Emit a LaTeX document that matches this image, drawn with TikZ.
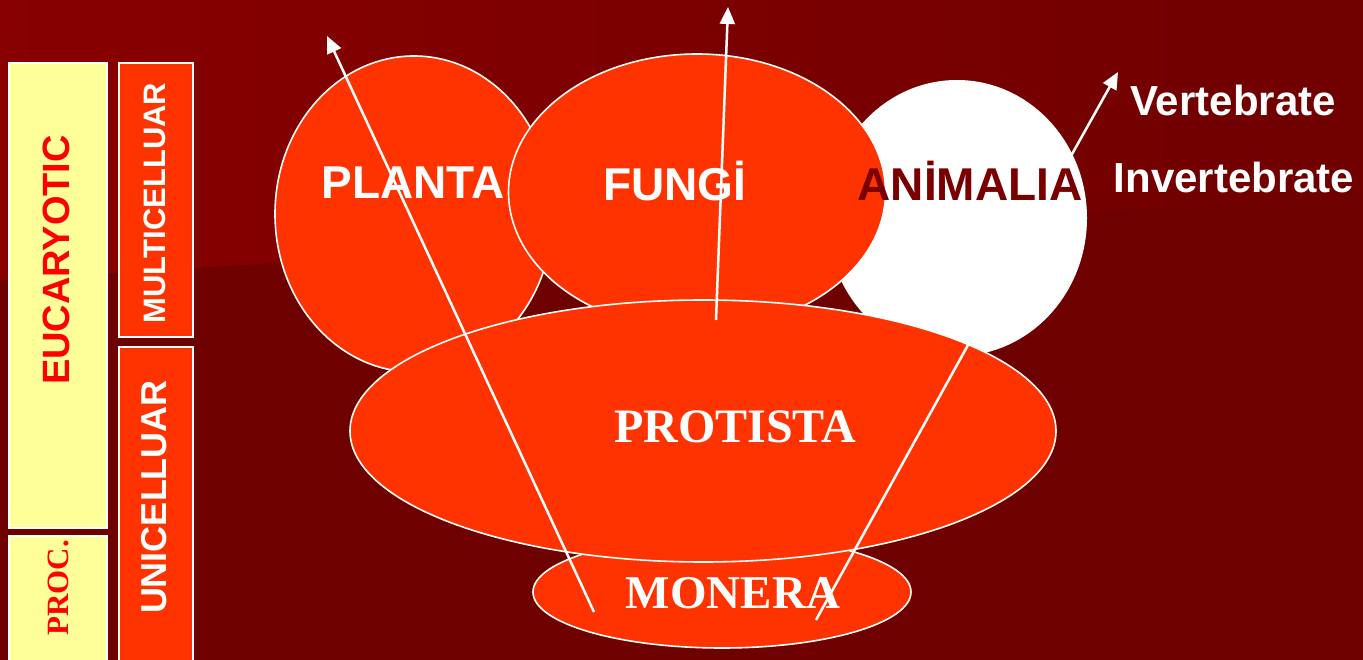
\documentclass[tikz,border=0pt]{standalone}
\usepackage{fontspec}
\setmainfont{Liberation Serif}
\setsansfont{Liberation Sans}
\usetikzlibrary{shapes.geometric,arrows.meta}
\definecolor{bgtop}{HTML}{880000}
\definecolor{bgright}{HTML}{700000}
\definecolor{bgbottom}{HTML}{6E0000}
\definecolor{kingdom}{HTML}{FF3300}
\definecolor{paleyellow}{HTML}{FFFF99}
\definecolor{darklabel}{HTML}{7A0000}
\definecolor{redlabel}{HTML}{FF0000}
\begin{document}
\begin{tikzpicture}[x=1pt,y=-1pt,
  blob/.style={ellipse,draw=white,line width=1.6pt,fill=kingdom,inner sep=0pt},
  yellowbox/.style={rectangle,draw=white,line width=1.4pt,fill=paleyellow,inner sep=0pt},
  orangebox/.style={rectangle,draw=white,line width=1.4pt,fill=kingdom,inner sep=0pt},
  sanslabel/.style={font=\sffamily\bfseries\fontsize{#1}{#1}\selectfont,inner sep=0pt},
  seriflabel/.style={font=\rmfamily\bfseries\fontsize{#1}{#1}\selectfont,inner sep=0pt},
  link/.style={draw=white,line width=2.5pt},
  arrowlink/.style={link,-{Triangle[length=17pt,width=15pt]}}]
\useasboundingbox (0,0) rectangle (1363,660);
% background: dark lower field, shaded upper band
\fill[bgbottom] (0,0) rectangle (1363,660);
\shade[left color=bgtop,right color=bgright] (0,0) -- (1363,0) -- (1363,195) -- (0,280) -- cycle;

% left classification bars
\node[yellowbox,minimum width=98pt,minimum height=465pt] (euk) at (58,295.5) {};
\node[yellowbox,minimum width=98pt,minimum height=130pt] (proc) at (58,601) {};
\node[orangebox,minimum width=74pt,minimum height=274pt] (multi) at (156,200) {};
\node[orangebox,minimum width=74pt,minimum height=320pt] (uni) at (156,507) {};
\node[sanslabel=38,text=redlabel,rotate=90] (eukt) at (56,260) {EUCARYOTIC};
\node[seriflabel=31,text=redlabel,rotate=90] (proct) at (58,588) {PROC.};
\node[sanslabel=31,text=white,rotate=90] (multit) at (155,203) {MULTICELLUAR};
\node[sanslabel=36,text=white,rotate=90] (unit) at (154,497) {UNICELLUAR};

% kingdoms
\node[ellipse,fill=white,inner sep=0pt,minimum width=260pt,minimum height=276pt] (animalia) at (957,218) {};
\node[blob,minimum width=278pt,minimum height=316pt] (planta) at (414,214) {};
\node[blob,minimum width=377pt,minimum height=276pt] (fungi) at (697,192) {};
\node[blob,minimum width=378pt,minimum height=112pt] (monera) at (722,592) {};
\node[blob,minimum width=706pt,minimum height=262pt] (protista) at (703,431) {};

% evolutionary lines
\coordinate (pl0) at (594,612);
\coordinate (pl1) at (327,36);
\coordinate (fu0) at (716,320);
\coordinate (fu1) at (728,7);
\coordinate (an0) at (816,620);
\coordinate (an1) at (968,345);
\coordinate (ve0) at (1048,197);
\coordinate (ve1) at (1118,72);
\draw[arrowlink] (pl0) -- (pl1);
\draw[arrowlink] (fu0) -- (fu1);
\draw[link] (an0) -- (an1);
\draw[arrowlink] (ve0) -- (ve1);

% kingdom names
\node[sanslabel=46,text=white] (plantat) at (413,183) {PLANTA};
\node[sanslabel=46,text=white] (fungit) at (675,181) {FUNGİ};
\node[sanslabel=46,text=darklabel] (animaliat) at (970,181) {ANİMALIA};
\node[sanslabel=42,text=white] (vert) at (1233,100) {Vertebrate};
\node[sanslabel=42,text=white] (invert) at (1234,177) {Invertebrate};
\node[seriflabel=48,text=white] (protistat) at (735,427) {PROTISTA};
\node[seriflabel=47,text=white] (munerat) at (733,593) {MONERA};
\end{tikzpicture}
\end{document}
